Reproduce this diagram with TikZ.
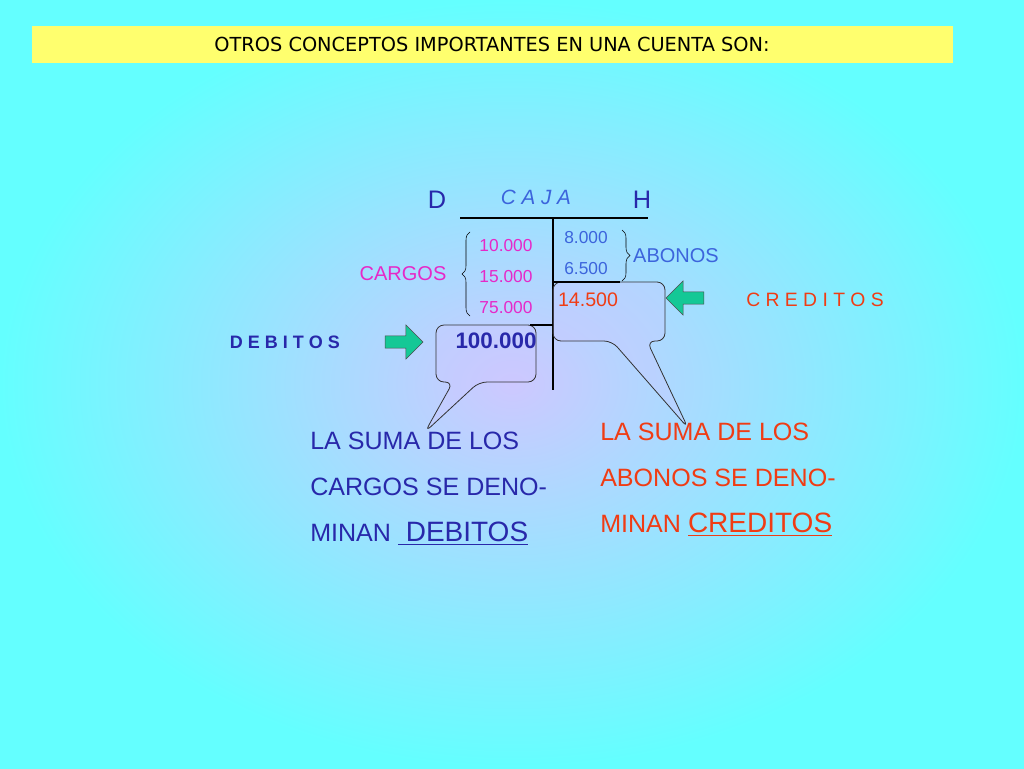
\documentclass[tikz,border=0pt]{standalone}
\usepackage{fontspec}
\setmainfont{Liberation Sans}
\newfontfamily\titlefont{DejaVu Sans}
\usetikzlibrary{shapes,arrows,calc,positioning}
\usetikzlibrary{decorations.pathreplacing}
\definecolor{cyanbg}{RGB}{100,255,255}
\definecolor{lavbg}{RGB}{205,200,255}
\definecolor{titlebg}{RGB}{255,255,110}
\definecolor{magtxt}{RGB}{230,40,200}
\definecolor{bluetxt}{RGB}{60,100,220}
\definecolor{redtxt}{RGB}{240,60,20}
\definecolor{dkblue}{RGB}{40,40,170}
\definecolor{arrgreen}{RGB}{20,200,150}
\newcommand{\ul}[1]{\underline{#1}}

\begin{document}
\begin{tikzpicture}[x=0.75pt,y=-0.75pt]

  \tikzstyle{num} = [font=\fontsize{13}{15}\selectfont,inner sep=1pt]
  \tikzstyle{big} = [font=\fontsize{18.8}{34.5}\selectfont,align=left,anchor=north west,inner sep=0pt]
  \tikzstyle{callout} = [draw=black!80,fill=lavbg,fill opacity=0.35,rounded corners=6pt,line width=0.6pt]
  \tikzstyle{fatarrow} = [single arrow,draw=black!70,fill=arrgreen,minimum height=1cm,minimum width=0.9cm,single arrow head extend=4pt,inner sep=2pt]

  % fondo
  \useasboundingbox (0,0) rectangle (1024,768);
  \shade[inner color=lavbg,outer color=cyanbg] (0,0) rectangle (1024,768);

  \node[draw=none,fill=titlebg,minimum width=921*0.75pt,minimum height=37*0.75pt,
        font=\titlefont\fontsize{14.5}{16}\selectfont] (title) at (492,44)
        {OTROS CONCEPTOS IMPORTANTES EN UNA CUENTA SON:};

  % cuenta T
  \coordinate (tl) at (460,218);
  \coordinate (tr) at (648,218);
  \coordinate (tt) at (553,218);
  \coordinate (tb) at (553,390);
  \draw[line width=2pt] (tl) -- (tr);
  \draw[line width=1.5pt] (tt) -- (tb);
  \node[font=\fontsize{19}{20}\selectfont,text=dkblue] (D) at (437,200) {D};
  \node[font=\fontsize{19}{20}\selectfont,text=dkblue] (H) at (642,200) {H};
  \node[font=\itshape\fontsize{15.5}{17}\selectfont,text=bluetxt] (caja) at (536,197) {C A J A};

  % callouts
  \draw[callout] (453,382) -- (436,382) -- (436,325) -- (536,325) -- (536,382) -- (479,382) -- (425,432) -- cycle;
  \draw[callout] (612,341) -- (553,341) -- (553,282) -- (665,282) -- (665,341) -- (647,341) -- (688,428) -- cycle;
  \coordinate (c1) at (530,325);
  \coordinate (c2) at (620,282);
  \draw[line width=0.8pt] (c1) -- (tt |- c1);
  \draw[line width=0.8pt] (c2) -- (tt |- c2);

  % cargos
  \node[num,text=magtxt] (n1) at (506,246) {10.000};
  \node[num,text=magtxt] (n2) at (506,277) {15.000};
  \node[num,text=magtxt] (n3) at (506,308) {75.000};
  \draw[decorate,decoration={brace,amplitude=6pt}] (470,316) -- (470,232);
  \node[font=\fontsize{15}{17}\selectfont,text=magtxt] (cargos) at (403,274) {CARGOS};

  % abonos
  \node[num,text=bluetxt] (n4) at (586,238) {8.000};
  \node[num,text=bluetxt] (n5) at (586,269) {6.500};
  \draw[decorate,decoration={brace,amplitude=6pt}] (622,230) -- (622,281);
  \node[font=\fontsize{15}{17}\selectfont,text=bluetxt] (abonos) at (676,256) {ABONOS};

  \node[font=\fontsize{14.7}{16}\selectfont,text=redtxt] (saldoH) at (588,300) {14.500};
  \node[font=\bfseries\fontsize{16.8}{18}\selectfont,text=dkblue] (saldoD) at (496,341) {100.000};

  % flechas
  \node[fatarrow] (arrD) at (401,342) {};
  \node[fatarrow,shape border rotate=180] (arrC) at (688,298) {};
  \node[font=\bfseries\fontsize{13.5}{15}\selectfont,text=dkblue] (debitos) at (285,342) {D E B I T O S};
  \node[font=\fontsize{14.5}{16}\selectfont,text=redtxt] (creditos) at (815,300) {C R E D I T O S};

  % textos
  \node[big,text=dkblue] (txtD) at (310,432)
    {LA SUMA DE LOS\\CARGOS SE DENO-\\MINAN \ul{\fontsize{21}{34.5}\selectfont\ DEBITOS}};
  \node[big,text=redtxt] (txtC) at (600,423)
    {LA SUMA DE LOS\\ABONOS SE DENO-\\MINAN \ul{\fontsize{21}{34.5}\selectfont CREDITOS}};

\end{tikzpicture}
\end{document}
